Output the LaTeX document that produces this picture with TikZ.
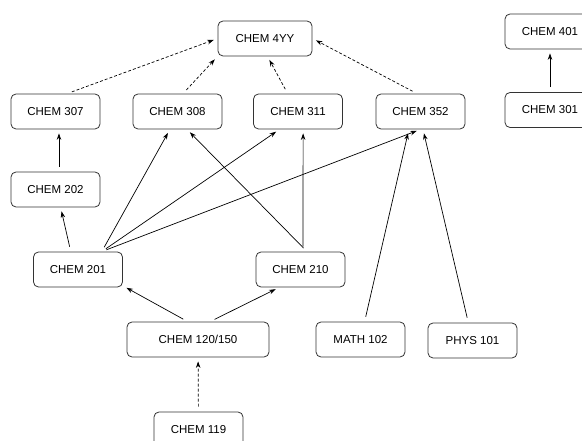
\documentclass[tikz,border=0pt]{standalone}
\usepackage{fontspec}
\setmainfont{Liberation Sans}
\usepackage{tikz}
\usetikzlibrary{arrows.meta}
\tikzset{>=Stealth}
\tikzset{
    course/.style={draw=black!80, line width=0.8pt, rounded corners=5pt,
        minimum width=89pt, minimum height=35pt, inner sep=2pt,
        font=\fontsize{11.5}{13}\selectfont},
    coreq/.style={dash pattern=on 3pt off 2pt}
}

\begin{document}
\begin{tikzpicture}[x=1pt,y=-1pt]
    \useasboundingbox (0,0) rectangle (582,441);
    \node[course,minimum width=94pt] at (265,38.5) (a1f3c4e9) {CHEM 4YY};
    \node[course,minimum width=90pt] at (550,31.5) (7be20d15) {CHEM 401};
    \node[course,minimum width=90pt] at (550,110) (52ca8e07) {CHEM 301};
    \node[course] at (55.5,111.5) (3c9a6f02) {CHEM 307};
    \node[course] at (177.5,111.5) (e54d17b8) {CHEM 308};
    \node[course] at (298,111.5) (0f8b2ac6) {CHEM 311};
    \node[course] at (420.5,111.5) (9d61e3f4) {CHEM 352};
    \node[course] at (55.5,189.5) (b80e4d93) {CHEM 202};
    \node[course] at (78,269.5) (46f2a1dc) {CHEM 201};
    \node[course] at (300.5,269.5) (d13b7e58) {CHEM 210};
    \node[course,minimum width=142pt] at (198,339.5) (8a5c0f36) {CHEM 120/150};
    \node[course] at (360.5,339.5) (6e0d92ab) {MATH 102};
    \node[course] at (472.5,340.5) (c7a4158e) {PHYS 101};
    \node[course] at (198.5,429.5) (2f96db40) {CHEM 119};
    \path[->, line width=0.7pt, >={Stealth[length=6.5pt,width=4.5pt]}, shorten <=5pt, shorten >=4pt]
    (3c9a6f02.57) edge [coreq] (a1f3c4e9.west)
    (e54d17b8.73) edge [coreq] (a1f3c4e9.south west)
    (0f8b2ac6.120) edge [coreq] (a1f3c4e9.278)
    (9d61e3f4.101) edge [coreq] (a1f3c4e9.east)
    (52ca8e07) edge (7be20d15)
    (b80e4d93.79) edge (3c9a6f02.281)
    (46f2a1dc.112) edge (b80e4d93.286)
    (46f2a1dc.37) edge (e54d17b8.247)
    (46f2a1dc.37) edge (0f8b2ac6.224)
    (46f2a1dc.37) edge (9d61e3f4.south)
    (d13b7e58.70) edge (e54d17b8.298)
    (d13b7e58.82) edge (0f8b2ac6.286)
    (6e0d92ab) edge (9d61e3f4.237)
    (c7a4158e) edge (9d61e3f4.278)
    (8a5c0f36.120) edge (46f2a1dc.340)
    (8a5c0f36.56) edge (d13b7e58.220)
    (2f96db40) edge [coreq] (8a5c0f36)
    ;
\end{tikzpicture}
\end{document}
